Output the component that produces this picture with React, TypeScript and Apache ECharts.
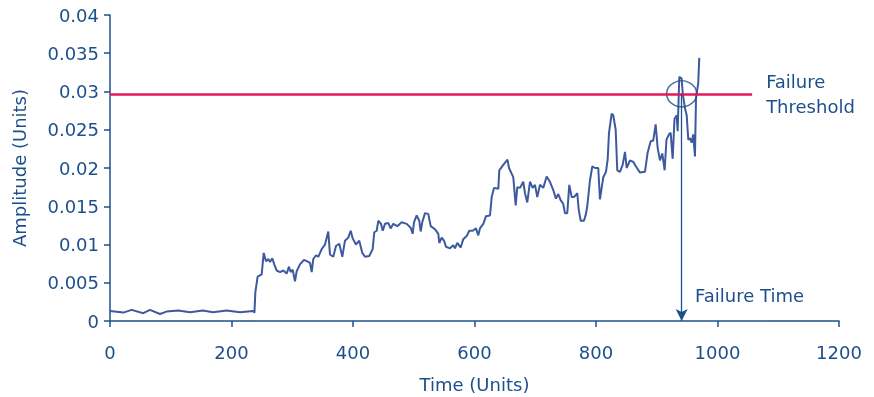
import React, { useEffect, useRef } from "react";
import * as echarts from "echarts";

const times: number[] = [
  0, 21.9, 35.7, 54.8, 65.8, 82.3, 93, 112.4, 131.7, 153, 169.5, 192, 214, 235.9, 237.8,
  239.2, 243, 249.7, 253, 256.8, 260.6, 263.4, 267.1, 270.4, 274.4, 279.8, 285.3, 290.8,
  294.6, 297.4, 300.7, 304.5, 307.3, 312.7, 319.3, 324.8, 329.2, 332, 334.6, 339.1, 342.9,
  348.5, 353.9, 359.3, 362.1, 367.5, 372, 377.4, 382.4, 386.8, 392.2, 396.2, 399.5, 404.9,
  410.3, 415.3, 419.7, 426.8, 432.4, 435, 439, 441.6, 446.1, 448.9, 452.7, 458.1, 462,
  466.3, 472.9, 480.1, 488.4, 494.9, 498.2, 500.4, 504.8, 509.1, 511.4, 514, 518.5, 523.9,
  527.9, 534.9, 540.4, 542, 546, 549.8, 553.1, 559.6, 565.1, 567.9, 571.7, 577.3, 581.5,
  587.1, 591.4, 597, 602.4, 606.2, 609, 614.5, 618.9, 625.5, 628.3, 632.1, 639.2, 640.8,
  647.4, 654.3, 656.8, 663.8, 667.8, 670.4, 674.9, 680.3, 683.1, 686.9, 691.3, 695.8,
  699.6, 703.3, 707.8, 713.2, 718.8, 724.2, 729.7, 734.1, 737.9, 741.8, 746.1, 748.9,
  752.7, 756, 760, 763.7, 769.2, 771.5, 774.8, 780.2, 783.5, 785.6, 790.1, 793.9, 798.3,
  803.7, 806.5, 809.3, 812, 816.4, 819.2, 821.4, 825.8, 828.4, 832.4, 835, 839.5, 843.9,
  847.7, 850.5, 855.9, 861.3, 865.8, 872.4, 880.6, 885, 890, 894.3, 898.2, 901.5, 905.3,
  909.1, 913, 916, 920.1, 922.9, 926.2, 929.2, 932.8, 934.4, 937.1, 941, 942.7, 946.5,
  949.3, 951.9, 954.7, 957.5, 960.1, 962.9, 964.6, 968.3, 970,
];

const amplitudes: number[] = [
  0.00132, 0.0011, 0.00145, 0.00102, 0.00145, 0.00092, 0.00123, 0.00136, 0.00115, 0.00136,
  0.00115, 0.00136, 0.00115, 0.00132, 0.0011,
  0.0037, 0.0058, 0.0061, 0.0089, 0.0078, 0.0081, 0.0077, 0.0082, 0.0074, 0.0066, 0.0064,
  0.0066, 0.0062, 0.0071, 0.0064, 0.0067, 0.0052, 0.0065, 0.0074, 0.008, 0.0078, 0.0076,
  0.0064, 0.0081, 0.0086, 0.0084, 0.0094, 0.01, 0.0117, 0.0087, 0.0084, 0.0098, 0.0101,
  0.0084, 0.0105, 0.0109, 0.0118, 0.0108, 0.01, 0.0105, 0.0089, 0.0084, 0.0085, 0.0094,
  0.0116, 0.0118, 0.0131, 0.0127, 0.0118, 0.0127, 0.0128, 0.0121, 0.0127, 0.0124, 0.0129,
  0.0127, 0.0122, 0.0114, 0.0129, 0.0138, 0.0131, 0.0117, 0.0129, 0.0141, 0.014, 0.0124,
  0.012, 0.0114, 0.0102, 0.0109, 0.0105, 0.0097, 0.0095, 0.0099, 0.0095, 0.0102, 0.0096,
  0.0107, 0.0111, 0.0118, 0.0118, 0.0121, 0.0112, 0.0121, 0.0127, 0.0137, 0.0138, 0.0162,
  0.0174, 0.0173, 0.0197, 0.0204, 0.0211, 0.02, 0.0188, 0.0151, 0.0175, 0.0174, 0.0182,
  0.0167, 0.0155, 0.0182, 0.0174, 0.0178, 0.0162, 0.0178, 0.0174, 0.0189, 0.0182, 0.0171,
  0.016, 0.0166, 0.0158, 0.0153, 0.0141, 0.0141, 0.0178, 0.0162, 0.0162, 0.0167, 0.0146,
  0.0131, 0.0131, 0.014, 0.015, 0.0184, 0.0202, 0.02, 0.02, 0.0159, 0.0174, 0.0188,
  0.0195, 0.0211, 0.0246, 0.0271, 0.0269, 0.025, 0.0197, 0.0195, 0.0204, 0.0221, 0.02,
  0.021, 0.0208, 0.0202, 0.0194, 0.0195, 0.022, 0.0235, 0.0236, 0.0257, 0.0226, 0.021,
  0.0219, 0.0197, 0.0237, 0.0244, 0.0246, 0.0212, 0.0264, 0.0269, 0.0248, 0.0319, 0.0317,
  0.0298, 0.0278, 0.0269, 0.0237, 0.0239, 0.0233, 0.0244, 0.0215, 0.0291, 0.0311, 0.0344,
];

const xTicks = { min: 0, max: 1200, interval: 200 };
const yTicks = { min: 0, max: 0.04, interval: 0.005 };
const failureThreshold = 0.0297;
const thresholdEnd = 1057;
const failureTime = 941;
const failureTop = 0.0297;

const BLUE = "#1d4f8c";
const LINE = "#3e5a9e";
const RED = "#e2195b";
const FONT = "'DejaVu Sans', sans-serif";

export default function App() {
  const ref = useRef<HTMLDivElement>(null);
  useEffect(() => {
    if (!ref.current) return;
    const chart = echarts.init(ref.current, undefined, { renderer: "svg" });
    const data = times.map((t, i) => [t, amplitudes[i]]);
    chart.setOption({
      animation: false,
      grid: { left: 110, right: 35, top: 15, bottom: 76, outerBoundsMode: "none", containLabel: false },
      textStyle: { fontFamily: FONT },
      xAxis: {
        type: "value",
        min: xTicks.min,
        max: xTicks.max,
        interval: xTicks.interval,
        name: "Time (Units)",
        nameLocation: "middle",
        nameGap: 54,
        nameTextStyle: { color: BLUE, fontSize: 18, fontFamily: FONT },
        axisLine: { show: true, lineStyle: { color: BLUE, width: 1.5 } },
        axisTick: { show: true, length: 6, lineStyle: { color: BLUE, width: 1.5 } },
        axisLabel: {
          color: BLUE,
          fontSize: 18,
          margin: 22,
          fontFamily: FONT,
          formatter: (v: number) => String(v),
        },
        splitLine: { show: false },
      },
      yAxis: {
        type: "value",
        min: yTicks.min,
        max: yTicks.max,
        interval: yTicks.interval,
        name: "Amplitude (Units)",
        nameLocation: "middle",
        nameGap: 82,
        nameTextStyle: { color: BLUE, fontSize: 18, fontFamily: FONT },
        axisLine: { show: true, lineStyle: { color: BLUE, width: 1.5 } },
        axisTick: { show: true, length: 6, lineStyle: { color: BLUE, width: 1.5 } },
        axisLabel: {
          color: BLUE,
          fontSize: 18,
          margin: 11,
          fontFamily: FONT,
          formatter: (v: number) => String(+v.toFixed(3)),
        },
        splitLine: { show: false },
      },
      series: [
        {
          type: "line",
          data,
          showSymbol: false,
          symbol: "none",
          lineStyle: { color: LINE, width: 2 },
          z: 3,
          markLine: {
            silent: true,
            symbol: ["none", "none"],
            lineStyle: { color: RED, width: 2.5, type: "solid" },
            label: {
              show: true,
              position: "end",
              distance: 14,
              formatter: "Failure\nThreshold",
              color: BLUE,
              fontSize: 18,
              lineHeight: 25,
              fontFamily: FONT,
            },
            data: [[{ coord: [0, failureThreshold] }, { coord: [thresholdEnd, failureThreshold] }]],
          },
        },
        {
          type: "scatter",
          data: [[failureTime, failureThreshold]],
          symbol: "circle",
          symbolSize: [30, 26],
          itemStyle: { color: "rgba(0,0,0,0)", borderColor: BLUE, borderWidth: 1.5 },
          z: 4,
          markLine: {
            silent: true,
            symbol: ["none", "arrow"],
            symbolSize: [9, 12],
            lineStyle: { color: BLUE, width: 1.3, type: "solid" },
            label: { show: false },
            data: [[{ coord: [failureTime, failureTop] }, { coord: [failureTime, 0] }]],
          },
        },
      ],
      graphic: [
        {
          type: "text",
          left: 695,
          top: 286,
          style: { text: "Failure Time", fill: BLUE, fontSize: 18, fontFamily: FONT },
        },
      ],
    });
    return () => chart.dispose();
  }, []);
  return (
    <div
      ref={ref}
      style={{ position: "fixed", left: 0, top: 0, width: 874, height: 397 }}
    />
  );
}
